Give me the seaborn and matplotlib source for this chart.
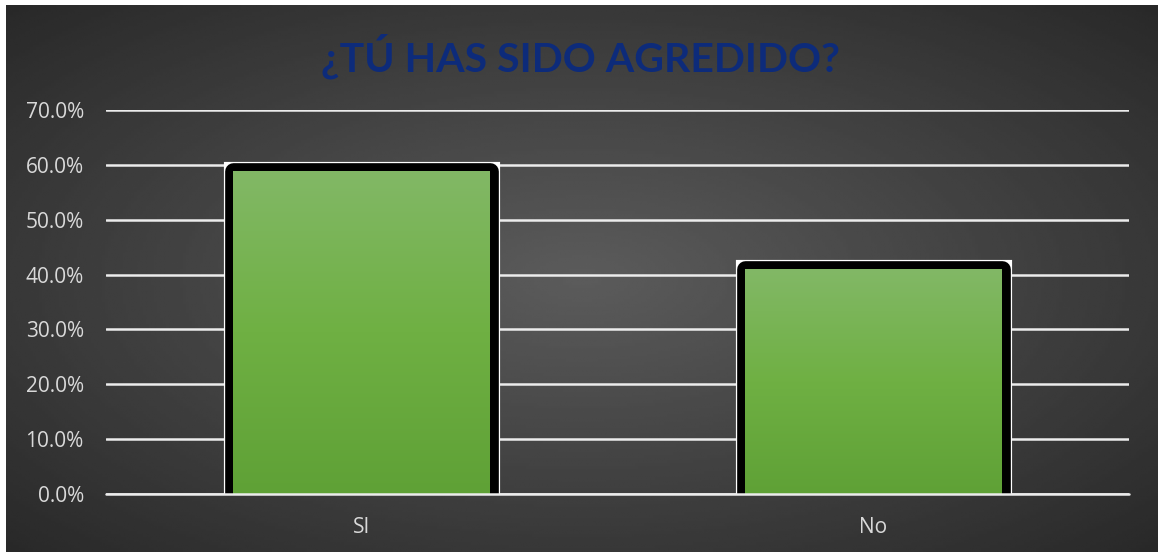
import numpy as np
import pandas as pd
import seaborn as sns
import matplotlib.pyplot as plt
import matplotlib.patheffects as pe
from matplotlib.colors import LinearSegmentedColormap
from matplotlib.ticker import PercentFormatter

# data
categories = ['SI', 'No']
values = [0.59, 0.41]
title = '¿TÚ HAS SIDO AGREDIDO?'

df = pd.DataFrame({'respuesta': categories, 'porcentaje': values})

sns.set_style('white')
plt.rcParams['font.family'] = ['Open Sans', 'DejaVu Sans']

W, H = 1158, 552
fig = plt.figure(figsize=(W / 100, H / 100), dpi=100, facecolor='white')

# dark radial background (chart area starts a few px in from top/left)
bg = fig.add_axes([6 / W, 0, 1 - 6 / W, 1 - 5 / H], zorder=0)
gx, gy = np.meshgrid(np.linspace(-1, 1, 400), np.linspace(-1, 1, 200))
r = np.clip(np.sqrt(gx ** 2 + gy ** 2) / np.sqrt(2), 0, 1)
bg.imshow(0.36 - 0.20 * r, cmap='gray', vmin=0, vmax=1, aspect='auto',
          extent=[0, 1, 0, 1], interpolation='bilinear')
bg.set_axis_off()

ax = fig.add_axes([106 / W, 58.3 / H, (1129 - 106) / W, (441.7 - 58.3) / H], zorder=1)
ax.patch.set_alpha(0)

sns.barplot(data=df, x='respuesta', y='porcentaje', ax=ax, width=0.502,
            color='#6fad46', saturation=1, linewidth=0, zorder=3)

# black frame outside the bar with a thin white rim; green gradient fill on top
green = LinearSegmentedColormap.from_list('g', ['#5fa136', '#6fb043', '#82b866'])
grad = np.linspace(0, 1, 256).reshape(-1, 1)
for p in ax.patches:
    x0, w, h = p.get_x(), p.get_width(), p.get_height()
    p.set_facecolor('none')
    p.set_edgecolor('black')
    p.set_linewidth(12)
    p.set_path_effects([pe.Stroke(linewidth=13.8, foreground='white', joinstyle='miter'),
                        pe.Stroke(linewidth=12, foreground='black', joinstyle='round')])
    im = ax.imshow(grad, extent=[x0, x0 + w, 0, h], origin='lower', cmap=green,
                   aspect='auto', zorder=4)
    im.set_clip_path(p)

ax.set_xlim(-0.5, 1.5)
ax.set_ylim(0, 0.70)
ax.set_yticks(np.arange(0, 0.71, 0.1))
ax.yaxis.set_major_formatter(PercentFormatter(1.0, decimals=1))
ax.grid(axis='y', color='#ececec', linewidth=1.8, zorder=1)
ax.set_axisbelow(True)
ax.axhline(0, color='#ececec', linewidth=1.8, zorder=5, clip_on=False)
sns.despine(ax=ax, left=True, bottom=True, right=True, top=True)
ax.tick_params(axis='both', length=0, labelsize=15, colors='#d9d9d9')
ax.tick_params(axis='y', pad=16)
ax.tick_params(axis='x', pad=17)
ax.set_xlabel('')
ax.set_ylabel('')

fig.text(0.501, 1 - 56 / H, title, ha='center', va='center', fontsize=29.5,
         fontweight='bold', color='#0d2b7a', family=['Lato', 'DejaVu Sans'])

plt.savefig('out.png', dpi=100, facecolor='white')
